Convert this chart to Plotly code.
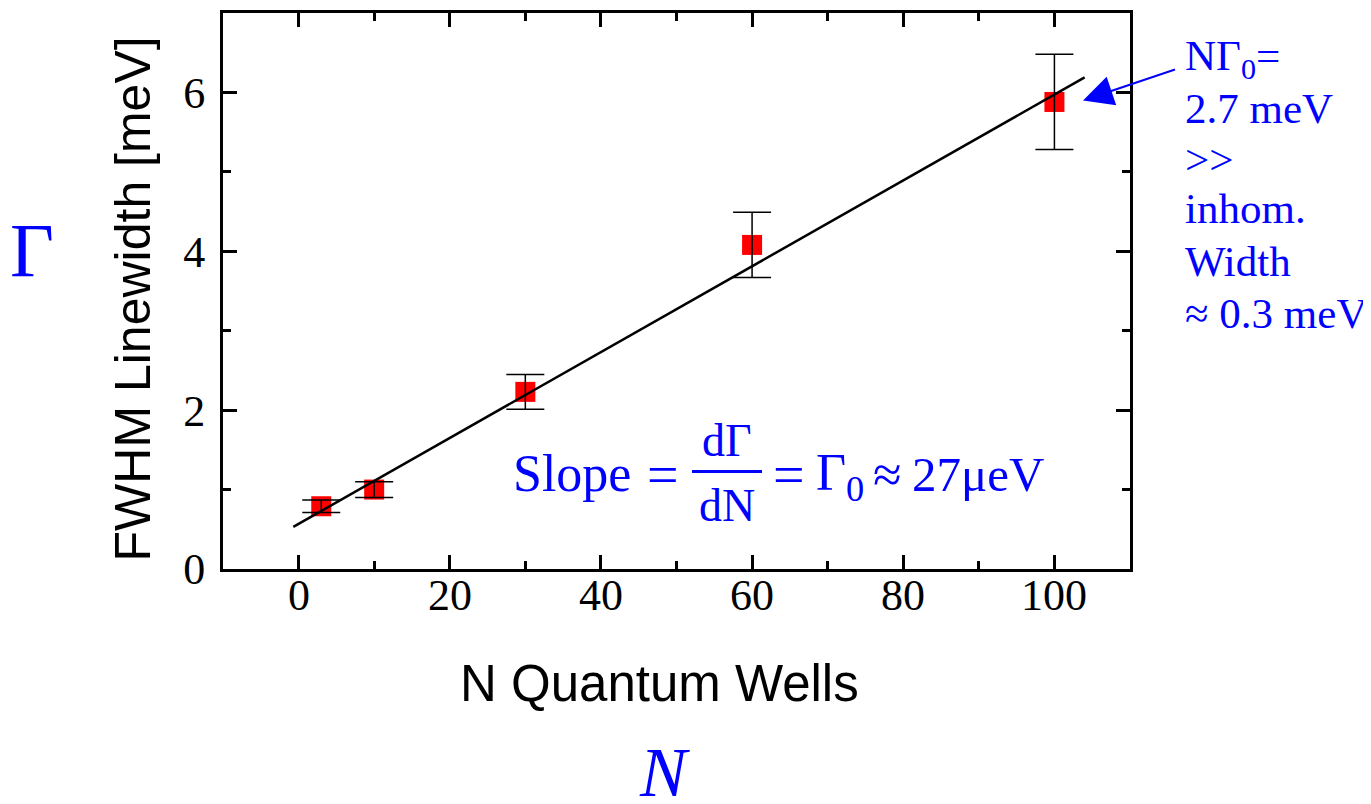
import plotly.graph_objects as go

# ---- data ----
n_wells = [3, 10, 30, 60, 100]
fwhm_mev = [0.79, 1.00, 2.23, 4.08, 5.88]
fwhm_err = [0.08, 0.10, 0.22, 0.41, 0.60]
fit_x = [-0.7, 104.0]
fit_y = [0.53, 6.19]

x_ticks = [0, 20, 40, 60, 80, 100]
y_ticks = [0, 2, 4, 6]

# page offset of the figure (default body margin)
OFF = 8
# plot frame in page pixels
L, R, T, B = 223, 1130, 10, 569
W, H = R - L, B - T


def px(x):
    return (x - L) / W


def py(y):
    return (B - y) / H


SERIF = "Liberation Serif, Times New Roman, serif"
SANS = "Liberation Sans, Arial, sans-serif"
BLUE = "#0000FF"

fig = go.Figure()

fig.add_trace(go.Scatter(
    x=n_wells, y=fwhm_mev, mode="markers",
    marker=dict(symbol="square", size=20, color="#FF0000", line=dict(width=0)),
    showlegend=False, hoverinfo="skip", cliponaxis=False))

fig.add_trace(go.Scatter(
    x=fit_x, y=fit_y, mode="lines",
    line=dict(color="black", width=2.5),
    showlegend=False, hoverinfo="skip"))

fig.add_trace(go.Scatter(
    x=n_wells, y=fwhm_mev, mode="markers",
    marker=dict(size=1, opacity=0),
    error_y=dict(type="data", array=fwhm_err, visible=True,
                 color="black", thickness=1.5, width=19),
    showlegend=False, hoverinfo="skip"))

axis_common = dict(
    showline=True, linewidth=3, linecolor="black", mirror="ticks",
    ticks="inside", ticklen=14, tickwidth=3, tickcolor="black",
    showgrid=False, zeroline=False,
    tickfont=dict(family=SERIF, size=44, color="black"),
)

fig.update_xaxes(range=[-10, 110], tickvals=x_ticks, showticklabels=False,
                 minor=dict(ticks="inside", ticklen=8, tickwidth=3,
                            tickcolor="black", dtick=10, tick0=0, showgrid=False),
                 **axis_common)
fig.update_yaxes(range=[0, 7], tickvals=y_ticks,
                 minor=dict(ticks="inside", ticklen=8, tickwidth=3,
                            tickcolor="black", dtick=1, tick0=0, showgrid=False),
                 ticklabelstandoff=6, **axis_common)

ann = []
# x tick labels (placed closer to the axis than plotly's default)
for v in x_ticks:
    ann.append(dict(text=str(v), x=v, xref="x", y=py(596), yref="paper",
                    xanchor="center", yanchor="middle", showarrow=False,
                    font=dict(family=SERIF, size=44, color="black")))
# axis titles
ann.append(dict(text="N Quantum Wells", x=px(659), y=py(684), xref="paper", yref="paper",
                xanchor="center", yanchor="middle", showarrow=False,
                font=dict(family=SANS, size=51, color="black")))
ann.append(dict(text="FWHM Linewidth [meV]", x=px(133), y=py(298), xref="paper", yref="paper",
                xanchor="center", yanchor="middle", showarrow=False, textangle=-90,
                font=dict(family=SANS, size=50, color="black")))
# blue symbols
ann.append(dict(text="Γ", x=px(32), y=py(248), xref="paper", yref="paper",
                xanchor="center", yanchor="middle", showarrow=False,
                font=dict(family=SERIF, size=76, color=BLUE)))
ann.append(dict(text="<i>N</i>", x=px(664), y=py(774), xref="paper", yref="paper",
                xanchor="center", yanchor="middle", showarrow=False,
                font=dict(family=SERIF, size=70, color=BLUE)))
# slope formula
ann.append(dict(text="Slope", x=px(511), y=py(473), xref="paper", yref="paper",
                xanchor="left", yanchor="middle", showarrow=False,
                font=dict(family=SERIF, size=52, color=BLUE)))
ann.append(dict(text="=", x=px(645), y=py(474), xref="paper", yref="paper",
                xanchor="left", yanchor="middle", showarrow=False,
                font=dict(family=SERIF, size=56, color=BLUE)))
ann.append(dict(text="dΓ", x=px(727), y=py(440), xref="paper", yref="paper",
                xanchor="center", yanchor="middle", showarrow=False,
                font=dict(family=SERIF, size=46, color=BLUE)))
ann.append(dict(text="dN", x=px(727), y=py(505), xref="paper", yref="paper",
                xanchor="center", yanchor="middle", showarrow=False,
                font=dict(family=SERIF, size=46, color=BLUE)))
ann.append(dict(text="=", x=px(771), y=py(474), xref="paper", yref="paper",
                xanchor="left", yanchor="middle", showarrow=False,
                font=dict(family=SERIF, size=56, color=BLUE)))
ann.append(dict(text="Γ<sub>0</sub>", x=px(814), y=py(476), xref="paper", yref="paper",
                xanchor="left", yanchor="middle", showarrow=False,
                font=dict(family=SERIF, size=52, color=BLUE)))
ann.append(dict(text="≈", x=px(871), y=py(474), xref="paper", yref="paper",
                xanchor="left", yanchor="middle", showarrow=False,
                font=dict(family=SERIF, size=52, color=BLUE)))
ann.append(dict(text="27μeV", x=px(910), y=py(474), xref="paper", yref="paper",
                xanchor="left", yanchor="middle", showarrow=False,
                font=dict(family=SERIF, size=49, color=BLUE)))
# right-hand note
note_lines = ["NΓ<sub>0</sub>=", "2.7 meV", "&gt;&gt;", "inhom.", "Width", "≈ 0.3 meV"]
note_y = [56, 106, 157, 207, 260, 312]
for t, yy in zip(note_lines, note_y):
    ann.append(dict(text=t, x=px(1183), y=py(yy), xref="paper", yref="paper",
                    xanchor="left", yanchor="middle", showarrow=False,
                    font=dict(family=SERIF, size=43, color=BLUE)))
# arrow
ann.append(dict(text=" ", x=px(1083), y=py(98), xref="paper", yref="paper",
                ax=95, ay=-32, showarrow=True, arrowhead=2, arrowsize=3,
                arrowwidth=2, arrowcolor=BLUE, standoff=0))

fig.update_layout(
    width=1371 - OFF, height=804 - OFF,
    margin=dict(l=L - OFF, r=1371 - R, t=T - OFF, b=804 - B),
    paper_bgcolor="white", plot_bgcolor="white",
    annotations=ann,
    shapes=[dict(type="line", xref="paper", yref="paper",
                 x0=px(692), x1=px(762), y0=py(471), y1=py(471),
                 line=dict(color=BLUE, width=3))],
)

fig.write_html("out.html")
